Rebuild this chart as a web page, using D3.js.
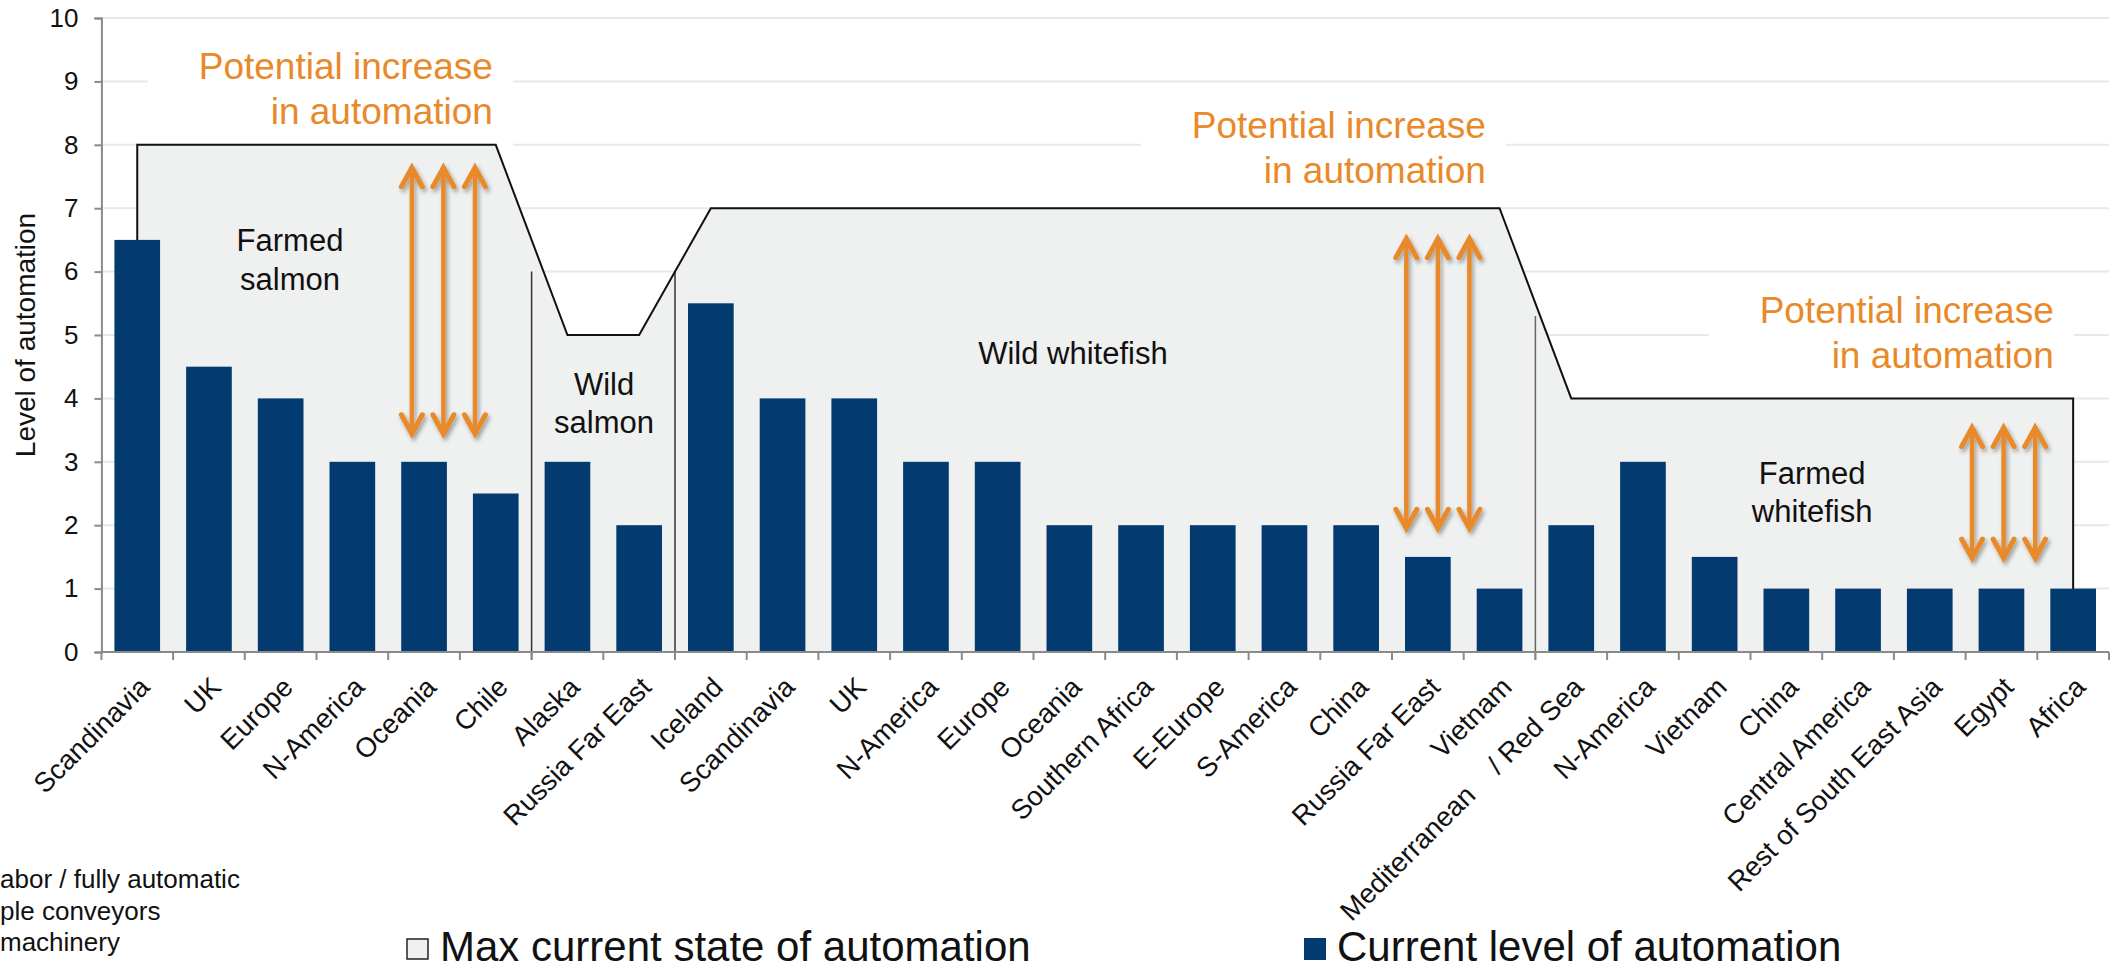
<!DOCTYPE html>
<html><head><meta charset="utf-8">
<script src="https://cdn.jsdelivr.net/npm/d3@7"></script>
<style>
body{margin:0;background:#fff;overflow:hidden}
svg{display:block;font-family:"Liberation Sans",Arial,sans-serif}
</style></head><body>
<svg id="c" width="2113" height="970"></svg>
<script>
// ---- data ----
const categories = ["Scandinavia","UK","Europe","N-America","Oceania","Chile",
  "Alaska","Russia Far East",
  "Iceland","Scandinavia","UK","N-America","Europe","Oceania","Southern Africa","E-Europe","S-America","China","Russia Far East","Vietnam",
  "Mediterranean    / Red Sea","N-America","Vietnam","China","Central America","Rest of South East Asia","Egypt","Africa"];
const currentLevel = [6.5,4.5,4,3,3,2.5, 3,2, 5.5,4,4,3,3,2,2,2,2,2,1.5,1, 2,3,1.5,1,1,1,1,1];
const maxState     = [8,8,8,8,8,8, 5,5, 7,7,7,7,7,7,7,7,7,7,7,7, 4,4,4,4,4,4,4,4];
const yTicks = [0,1,2,3,4,5,6,7,8,9,10];
const groupNames = [["Farmed","salmon"],["Wild","salmon"],["Wild whitefish"],["Farmed","whitefish"]];
const groupLabelIndex = [2.13, 6.51, 13.05, 23.36];
const groupLabelValue = [6.32, 4.06, 4.54, 2.65];
const separatorAfter = [5, 7, 19];
const separatorTop   = [6, 6, 5.3];
const arrowCenter = [4.27, 18.14, 26.03];
const arrowFrom   = [3.41, 1.92, 1.45];
const arrowTo     = [7.67, 6.55, 3.57];
const potentialIndex = [4.96, 18.81, 26.73];
const potentialValue = [9.04, 8.11, 5.19];
const potentialText = ["Potential increase","in automation"];
const sideNotes = ["abor / fully automatic","ple conveyors","machinery"];
const legendItems = ["Max current state of automation","Current level of automation"];

// ---- styles ----
const BAR = "#033A70", FILL = "#EFF0F0", ORANGE = "#E8892A", GRID = "#E4E9EF", AXIS = "#8A8A8A";

const svg = d3.select("#c");
const defs = svg.append("defs");
const f = defs.append("filter").attr("id","sh").attr("x","-50%").attr("y","-10%").attr("width","200%").attr("height","120%");
f.append("feDropShadow").attr("dx",2).attr("dy",3).attr("stdDeviation",2).attr("flood-color","#000").attr("flood-opacity",0.35);

const idx = d3.range(categories.length);
const x = d3.scaleBand().domain(idx).range([101.4, 2109]).paddingInner(0.363).paddingOuter(0.1815);
const cx = i => x(i) + x.bandwidth()/2;
const fx = v => x(0) + x.bandwidth()/2 + v * x.step();
const y = d3.scaleLinear().domain([0,10]).range([652,18]);
const X0 = x.range()[0], X1 = x.range()[1];

// gridlines
svg.append("g").selectAll("line").data(yTicks.filter(t=>t>0)).join("line")
  .attr("x1",X0).attr("x2",X1).attr("y1",d=>y(d)).attr("y2",d=>y(d))
  .attr("stroke",GRID).attr("stroke-width",2);

// white boxes behind "Potential increase" texts
svg.append("g").selectAll("rect").data(potentialIndex).join("rect")
  .attr("x",(d)=>fx(d)-345).attr("width",365)
  .attr("y",(d,i)=>y(potentialValue[i])-40).attr("height",107)
  .attr("fill","#fff");

// area (max current state)
const area = d3.area().x((d,i)=>cx(i)).y0(y(0)).y1(d=>y(d));
svg.append("path").datum(maxState).attr("d",area).attr("fill",FILL);

// separators
const bnd = i => X0 + i*x.step();
svg.append("g").selectAll("line").data(separatorAfter).join("line")
  .attr("x1",d=>bnd(d+1)).attr("x2",d=>bnd(d+1))
  .attr("y1",(d,i)=>y(separatorTop[i])).attr("y2",y(0)+8)
  .attr("stroke",(d,i)=>i==2?"#666":"#333").attr("stroke-width",1.5);

// outline line
const pts = [[0,0]].concat(maxState.map((v,i)=>[i,v])).concat([[maxState.length-1,0]]);
svg.append("path").datum(pts)
  .attr("d",d3.line().x(d=>cx(d[0])).y(d=>y(d[1])))
  .attr("fill","none").attr("stroke","#111").attr("stroke-width",2);

// bars
svg.append("g").selectAll("rect").data(currentLevel).join("rect")
  .attr("x",(d,i)=>x(i)).attr("width",x.bandwidth())
  .attr("y",d=>y(d)).attr("height",d=>y(0)-y(d))
  .attr("fill",BAR);

// y axis
const ya = svg.append("g").attr("transform",`translate(${X0},0)`)
  .call(d3.axisLeft(y).tickValues(yTicks).tickSize(7).tickPadding(16).tickFormat(d3.format("d")));
ya.select(".domain").attr("stroke",AXIS).attr("stroke-width",2);
ya.selectAll(".tick line").attr("stroke",AXIS).attr("stroke-width",2);
ya.selectAll(".tick text").attr("font-size",26).attr("fill","#111").attr("font-family","Liberation Sans, Arial, sans-serif");

// x axis
const boundaries = d3.range(categories.length+1).map(bnd);
svg.append("line").attr("x1",X0).attr("x2",X1).attr("y1",y(0)).attr("y2",y(0)).attr("stroke",AXIS).attr("stroke-width",2);
svg.append("g").selectAll("line").data(boundaries).join("line")
  .attr("x1",d=>d).attr("x2",d=>d).attr("y1",y(0)).attr("y2",y(0)+8)
  .attr("stroke",AXIS).attr("stroke-width",2);
svg.append("g").selectAll("text").data(categories).join("text")
  .attr("transform",(d,i)=>`translate(${cx(i)+7},${y(0)+30}) rotate(-45)`)
  .attr("text-anchor","end").attr("dy","0.35em")
  .attr("font-size",27.5).attr("fill","#111").style("white-space","pre")
  .text(d=>d);

// y title
svg.append("text").attr("transform","translate(35,335) rotate(-90)")
  .attr("text-anchor","middle").attr("font-size",28).attr("fill","#111")
  .text("Level of automation");

// group labels
groupNames.forEach((lines,g)=>{
  const t = svg.append("text").attr("text-anchor","middle").attr("font-size",31).attr("fill","#111");
  lines.forEach((ln,k)=>{
    t.append("tspan").attr("x",fx(groupLabelIndex[g])).attr("y",y(groupLabelValue[g])+k*38.5).text(ln);
  });
});

// arrows
arrowCenter.forEach((c,g)=>{
  const ga = svg.append("g").attr("filter","url(#sh)");
  [-0.44,0,0.44].forEach(off=>{
    const ax = fx(c+off), yt = y(arrowTo[g]), yb = y(arrowFrom[g]);
    ga.append("line").attr("x1",ax).attr("x2",ax).attr("y1",yt+3).attr("y2",yb-3)
      .attr("stroke",ORANGE).attr("stroke-width",4.5);
    ga.append("path").attr("d",`M${ax-10.5},${yt+21}L${ax},${yt+2}L${ax+10.5},${yt+21}`)
      .attr("fill","none").attr("stroke",ORANGE).attr("stroke-width",5).attr("stroke-linecap","round").attr("stroke-linejoin","miter");
    ga.append("path").attr("d",`M${ax-10.5},${yb-21}L${ax},${yb-2}L${ax+10.5},${yb-21}`)
      .attr("fill","none").attr("stroke",ORANGE).attr("stroke-width",5).attr("stroke-linecap","round").attr("stroke-linejoin","miter");
  });
});

// potential increase texts
potentialIndex.forEach((p,g)=>{
  const t = svg.append("text").attr("text-anchor","end").attr("font-size",37).attr("fill",ORANGE);
  potentialText.forEach((ln,k)=>{
    t.append("tspan").attr("x",fx(p)).attr("y",y(potentialValue[g])+k*45).text(ln);
  });
});

// side notes (clipped at left edge)
svg.append("g").selectAll("text").data(sideNotes).join("text")
  .attr("x",0).attr("y",(d,i)=>888+i*31.5).attr("font-size",26).attr("fill","#111").text(d=>d);

// legend
const lg = svg.append("g");
lg.append("rect").attr("x",407).attr("y",939).attr("width",21).attr("height",20).attr("fill",FILL).attr("stroke","#222").attr("stroke-width",1.5);
lg.append("text").attr("x",440).attr("y",961).attr("font-size",42).attr("fill","#111").text(legendItems[0]);
lg.append("rect").attr("x",1304).attr("y",938).attr("width",22).attr("height",22).attr("fill",BAR);
lg.append("text").attr("x",1337).attr("y",961).attr("font-size",42).attr("fill","#111").text(legendItems[1]);
</script>
</body></html>
